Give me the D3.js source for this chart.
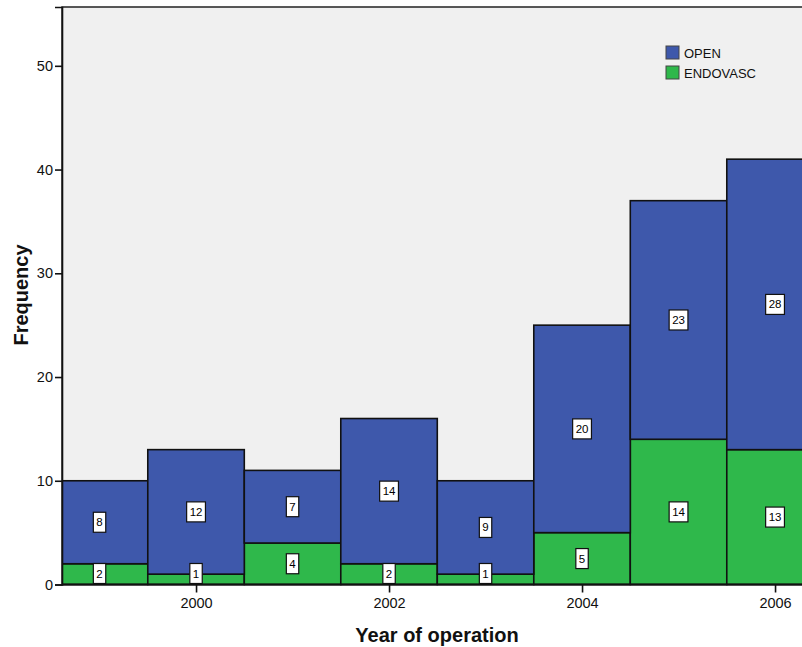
<!DOCTYPE html>
<html>
<head>
<meta charset="utf-8">
<script src="https://cdn.jsdelivr.net/npm/d3@7"></script>
<style>
  html, body { margin: 0; padding: 0; background: #fff; }
  svg { display: block; font-family: "Liberation Sans", Arial, sans-serif; }
</style>
</head>
<body>
<svg id="chart" width="802" height="647"></svg>
<script>
const years = [1999, 2000, 2001, 2002, 2003, 2004, 2005, 2006];
const endovasc = [2, 1, 4, 2, 1, 5, 14, 13];
const open = [8, 12, 7, 14, 9, 20, 23, 28];
const seriesNames = ["OPEN", "ENDOVASC"];
const seriesColors = ["#3e58ab", "#2fb84b"];
const yTicks = [0, 10, 20, 30, 40, 50];
const xTicks = [2000, 2002, 2004, 2006];

(function () {
const svg = d3.select("#chart");
const pL = 62, pT = 7, pB = 584.5, pR = 840;

const x = d3.scaleLinear().domain([1998.611, 1998.611 + (pR - pL) / 96.5]).range([pL, pR]);
const y = d3.scaleLinear().domain([0, 55.67]).range([pB, pT]);

svg.append("rect").attr("x", pL).attr("y", pT).attr("width", pR - pL).attr("height", pB - pT)
  .attr("fill", "#f0f0f0").attr("stroke", "#222").attr("stroke-width", 1.5);

const rows = years.map((yr, i) => ({ year: yr, ENDOVASC: endovasc[i], OPEN: open[i] }));
const stack = d3.stack().keys(["ENDOVASC", "OPEN"])(rows);
const colorOf = { OPEN: seriesColors[0], ENDOVASC: seriesColors[1] };

svg.append("clipPath").attr("id", "clip").append("rect")
  .attr("x", pL).attr("y", pT - 2).attr("width", pR - pL).attr("height", pB - pT + 4);

const g = svg.append("g").attr("clip-path", "url(#clip)");
stack.forEach(layer => {
  g.selectAll(null).data(layer).enter().append("rect")
    .attr("x", d => x(d.data.year - 0.5))
    .attr("width", d => x(d.data.year + 0.5) - x(d.data.year - 0.5))
    .attr("y", d => y(d[1]))
    .attr("height", d => y(d[0]) - y(d[1]))
    .attr("fill", colorOf[layer.key])
    .attr("stroke", "#111").attr("stroke-width", 1.6);
});

stack.forEach(layer => {
  layer.forEach(d => {
    const val = d[1] - d[0];
    const cx = x(d.data.year);
    let cy = y((d[0] + d[1]) / 2);
    const h = 20;
    if (cy + h / 2 > pB - 1) cy = pB - 1 - h / 2;
    const lg = svg.append("g");
    const t = lg.append("text").attr("x", cx).attr("y", cy + 4).attr("text-anchor", "middle")
      .attr("font-size", 11.5).attr("fill", "#000").text(val);
    const w = t.node().getComputedTextLength() + 6;
    lg.insert("rect", "text").attr("x", cx - w / 2).attr("y", cy - h / 2).attr("width", w).attr("height", h)
      .attr("fill", "#fff").attr("stroke", "#111").attr("stroke-width", 1.2);
  });
});

const yAxis = svg.append("g").attr("transform", `translate(${pL},0)`)
  .call(d3.axisLeft(y).tickValues(yTicks).tickSize(7).tickPadding(2).tickFormat(d3.format("d")));
yAxis.select(".domain").attr("stroke", "#111").attr("stroke-width", 1.6);
yAxis.selectAll(".tick line").attr("stroke", "#111").attr("stroke-width", 1.6);
yAxis.selectAll("text").attr("font-size", 14.5).attr("fill", "#111").attr("font-family", "Liberation Sans, Arial, sans-serif");

const xAxis = svg.append("g").attr("transform", `translate(0,${pB})`)
  .call(d3.axisBottom(x).tickValues(xTicks).tickSize(8).tickPadding(5).tickFormat(d3.format("d")));
xAxis.select(".domain").remove();
xAxis.selectAll(".tick line").attr("stroke", "#111").attr("stroke-width", 1.6);
xAxis.selectAll("text").attr("font-size", 14.5).attr("fill", "#111").attr("font-family", "Liberation Sans, Arial, sans-serif");
svg.append("line").attr("x1", pL).attr("x2", pR).attr("y1", pB).attr("y2", pB)
  .attr("stroke", "#111").attr("stroke-width", 1.8);

svg.append("text").attr("x", 437).attr("y", 642).attr("text-anchor", "middle")
  .attr("font-size", 20).attr("font-weight", "bold").attr("fill", "#111").text("Year of operation");
svg.append("text").attr("transform", "translate(28,295) rotate(-90)").attr("text-anchor", "middle")
  .attr("font-size", 20).attr("font-weight", "bold").attr("fill", "#111").text("Frequency");

const legend = svg.append("g").attr("transform", "translate(666,46)");
seriesNames.forEach((name, i) => {
  legend.append("rect").attr("x", 0).attr("y", i * 20).attr("width", 13).attr("height", 13)
    .attr("fill", seriesColors[i]).attr("stroke", "#444").attr("stroke-width", 1);
  legend.append("text").attr("x", 18).attr("y", i * 20 + 11.5).attr("font-size", 13)
    .attr("fill", "#111").text(name);
});
})();
</script>
</body>
</html>
